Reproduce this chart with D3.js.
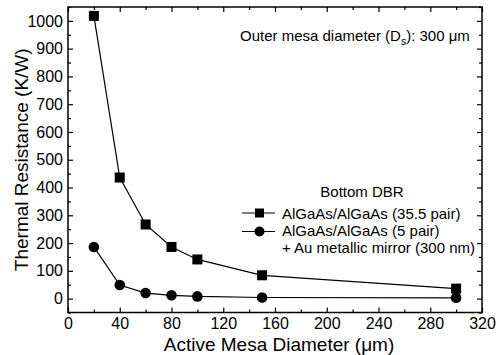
<!DOCTYPE html>
<html><head><meta charset="utf-8">
<script src="https://cdn.jsdelivr.net/npm/d3@7"></script>
<style>body{margin:0;background:#fff}svg{display:block}text{font-family:"Liberation Sans",Arial,sans-serif;fill:#000}</style>
</head><body><svg id="c" width="504" height="355"></svg>
<script>
const diameters = [20, 40, 60, 80, 100, 150, 300];
const dbr355 = [1018, 436, 267, 186, 141, 84, 36];
const dbr5Au = [186, 49, 20, 12, 8, 4, 3];
const xTicks = [0, 40, 80, 120, 160, 200, 240, 280, 320];
const yTicks = [0, 100, 200, 300, 400, 500, 600, 700, 800, 900, 1000];

const FONT = '"Liberation Sans", Arial, sans-serif';
const svg = d3.select("#c");
const L = 68, R = 482, T = 7, B = 312.5;
const x = d3.scaleLinear().domain([0, 320]).range([L, R]);
const y = d3.scaleLinear().domain([-50, 1050]).range([B, T]);

const g = svg.append("g");
g.append("rect").attr("x", L).attr("y", T).attr("width", R - L).attr("height", B - T)
  .attr("fill", "none").attr("stroke", "#000").attr("stroke-width", 1.5);

const xMinor = d3.range(0, 321, 20).filter(v => v % 40);
const yMinor = d3.range(-50, 1051, 50).filter(v => v % 100);
const fmt = d3.format("d");

const gb = g.append("g").attr("transform", `translate(0,${B})`)
  .call(d3.axisBottom(x).tickValues(xTicks).tickFormat(fmt).tickSizeInner(-5).tickSizeOuter(0).tickPadding(5));
gb.selectAll("text").attr("font-size", 16);
g.append("g").attr("transform", `translate(0,${B})`).call(d3.axisBottom(x).tickValues(xMinor).tickSizeInner(-3).tickSizeOuter(0).tickFormat(""));
g.append("g").attr("transform", `translate(0,${T})`).call(d3.axisTop(x).tickValues(xTicks).tickSizeInner(-5).tickSizeOuter(0).tickFormat(""));
g.append("g").attr("transform", `translate(0,${T})`).call(d3.axisTop(x).tickValues(xMinor).tickSizeInner(-3).tickSizeOuter(0).tickFormat(""));
const gl = g.append("g").attr("transform", `translate(${L},0)`)
  .call(d3.axisLeft(y).tickValues(yTicks).tickFormat(fmt).tickSizeInner(-5).tickSizeOuter(0).tickPadding(5));
gl.selectAll("text").attr("font-size", 16);
g.append("g").attr("transform", `translate(${L},0)`).call(d3.axisLeft(y).tickValues(yMinor).tickSizeInner(-3).tickSizeOuter(0).tickFormat(""));
g.append("g").attr("transform", `translate(${R},0)`).call(d3.axisRight(y).tickValues(yTicks).tickSizeInner(-5).tickSizeOuter(0).tickFormat(""));
g.append("g").attr("transform", `translate(${R},0)`).call(d3.axisRight(y).tickValues(yMinor).tickSizeInner(-3).tickSizeOuter(0).tickFormat(""));
g.selectAll(".domain").remove();
g.selectAll(".tick line").attr("stroke", "#000").attr("stroke-width", 1.2);
g.selectAll(".tick text").attr("fill", "#000").attr("font-family", FONT);

const line = d3.line().x((d, i) => x(diameters[i])).y(d => y(d));
[dbr355, dbr5Au].forEach(s => {
  svg.append("path").attr("d", line(s)).attr("fill", "none").attr("stroke", "#000").attr("stroke-width", 1.2);
});
svg.selectAll(".sq").data(dbr355).join("rect")
  .attr("x", (d, i) => x(diameters[i]) - 5).attr("y", d => y(d) - 5)
  .attr("width", 10).attr("height", 10).attr("fill", "#000");
svg.selectAll(".ci").data(dbr5Au).join("circle")
  .attr("cx", (d, i) => x(diameters[i])).attr("cy", d => y(d)).attr("r", 5.3).attr("fill", "#000");

svg.append("text").attr("x", (L + R) / 2 + 4).attr("y", 350.5).attr("text-anchor", "middle")
  .attr("font-size", 19).text("Active Mesa Diameter (\u03bcm)");
svg.append("text").attr("transform", `translate(28,${(T + B) / 2}) rotate(-90)`).attr("text-anchor", "middle")
  .attr("font-size", 19).text("Thermal Resistance (K/W)");

const ann = svg.append("text").attr("x", 240).attr("y", 41).attr("font-size", 15);
ann.append("tspan").text("Outer mesa diameter (D");
ann.append("tspan").attr("font-size", 10.5).attr("dy", 3.5).text("s");
ann.append("tspan").attr("dy", -3.5).text("): 300 \u03bcm");

svg.append("text").attr("x", 362).attr("y", 197).attr("text-anchor", "middle").attr("font-size", 15).text("Bottom DBR");
const lx0 = 242, lx1 = 275, lmx = 259.5;
const rows = [213, 231.5];
rows.forEach(r => svg.append("line").attr("x1", lx0).attr("x2", lx1).attr("y1", r).attr("y2", r).attr("stroke", "#000").attr("stroke-width", 1.2));
svg.append("rect").attr("x", lmx - 4.5).attr("y", rows[0] - 4.5).attr("width", 9).attr("height", 9).attr("fill", "#000");
svg.append("circle").attr("cx", lmx).attr("cy", rows[1]).attr("r", 5).attr("fill", "#000");
svg.append("text").attr("x", 282).attr("y", 219).attr("font-size", 15).text("AlGaAs/AlGaAs (35.5 pair)");
svg.append("text").attr("x", 282).attr("y", 236).attr("font-size", 15).text("AlGaAs/AlGaAs (5 pair)");
svg.append("text").attr("x", 282).attr("y", 252.5).attr("font-size", 15).text("+ Au metallic mirror (300 nm)");
</script></body></html>
